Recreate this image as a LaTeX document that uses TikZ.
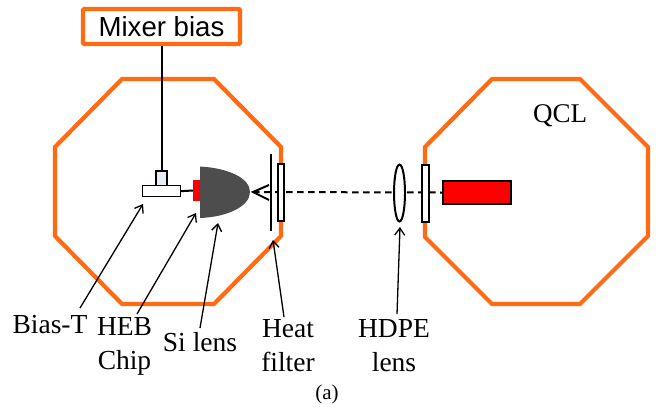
\documentclass[tikz,border=0pt]{standalone}
\usepackage{fontspec}
\setmainfont{Liberation Serif}
\newfontfamily\arialf{Liberation Sans}
\usetikzlibrary{arrows.meta,shapes.geometric}
\definecolor{oct}{HTML}{FF6A13}
\definecolor{lensgray}{HTML}{4D4D4D}
\definecolor{pale}{HTML}{E6EDF7}
\tikzset{
  x=1pt,y=-1pt,
  chamber/.style={draw=oct,line width=4.2pt,line join=miter},
  part/.style={draw=black,line width=2pt,inner sep=0pt,outer sep=0pt},
  wire/.style={draw=black,line width=2pt},
  pointer/.style={draw=black,line width=1.3pt,-{Straight Barb[length=7pt,width=10pt,line width=1.3pt]}},
  lbl/.style={font=\fontsize{27.5}{34}\selectfont,align=center,inner sep=0pt,text=black},
}
\begin{document}
\begin{tikzpicture}
\useasboundingbox (0,0) rectangle (660,407);
% chambers
\draw[chamber] (122,79) -- (214,79) -- (281,147) -- (281,236) -- (214,304) -- (122,304) -- (55,236) -- (55,147) -- cycle;
\draw[chamber] (492,79) -- (580,79) -- (648,147) -- (648,236) -- (580,304) -- (492,304) -- (425,237) -- (425,147) -- cycle;
% mixer bias
\node[draw=oct,line width=4.2pt,rounded corners=1pt,minimum width=157pt,minimum height=35pt,inner sep=0pt,font=\arialf\fontsize{27.6}{32}\selectfont,fill=white] (mixer) at (161.5,26.5) {Mixer bias};
% bias-T
\node[part,fill=pale,minimum width=11pt,minimum height=15pt,line width=1.5pt] (stub) at (161.5,178.5) {};
\node[part,fill=white,minimum width=38pt,minimum height=11pt,line width=1.5pt] (biast) at (161.5,191.2) {};
\node[fill=red,inner sep=0pt,minimum width=7pt,minimum height=21pt] (chip) at (196.5,190.5) {};
\draw[wire] (stub.north |- mixer.south) -- (stub.north);
\draw[wire] (biast.east) -- (chip.west);
% Si lens
\path[fill=lensgray] (200,166.5) .. controls (228,168) and (250,178) .. (250,192) .. controls (250,206) and (228,217) .. (200,218) -- cycle;
\coordinate (lensapex) at (253,192);
% heat filter, windows
\coordinate (ftop) at (271,154);
\coordinate (fbot) at (271,231);
\draw[wire] (ftop) -- (fbot);
\node[draw=black,line width=2pt,fill=red,inner sep=0pt,minimum width=68pt,minimum height=23pt] (qcl) at (477,192.5) {};
\draw[line width=2pt,dash pattern=on 6.5pt off 4.5pt] (lensapex) -- (qcl.west);
\draw[line width=2pt] (269,185) -- (lensapex) -- (269,200);
\node[part,fill=white,minimum width=6.5pt,minimum height=57pt] (filter) at (281,192) {};
\node[part,fill=white,minimum width=6.5pt,minimum height=57pt] (window) at (425.3,193) {};
\node[part,ellipse,fill=white,minimum width=11pt,minimum height=57pt] (hdpe) at (399.5,193) {};
% labels
\node[lbl,font=\fontsize{27}{32}\selectfont] (qcltext) at (560,116) {QCL};
\node[lbl] (tbias) at (50,325) {Bias-T};
\node[lbl] (theb) at (124.5,346) {HEB\\Chip};
\node[lbl] (tsi) at (200,342) {Si lens};
\node[lbl] (theat) at (288,346) {Heat\\filter};
\node[lbl] (thdpe) at (394,346) {HDPE\\lens};
\node[lbl,font=\fontsize{21}{24}\selectfont] (tcap) at (327,394) {(a)};
% pointers
\coordinate (pbias) at (143,204);
\coordinate (pheb) at (196,213);
\coordinate (psi) at (218,223);
\coordinate (pheat) at (273,240);
\coordinate (phdpe) at (400,227);
\coordinate (sbias) at (80,308);
\coordinate (sheb) at (137,314);
\coordinate (ssi) at (200,328);
\coordinate (sheat) at (284,317);
\coordinate (shdpe) at (397,314);
\draw[pointer] (sbias) -- (pbias);
\draw[pointer] (sheb) -- (pheb);
\draw[pointer] (ssi) -- (psi);
\draw[pointer] (sheat) -- (pheat);
\draw[pointer] (shdpe) -- (phdpe);
\end{tikzpicture}
\end{document}
